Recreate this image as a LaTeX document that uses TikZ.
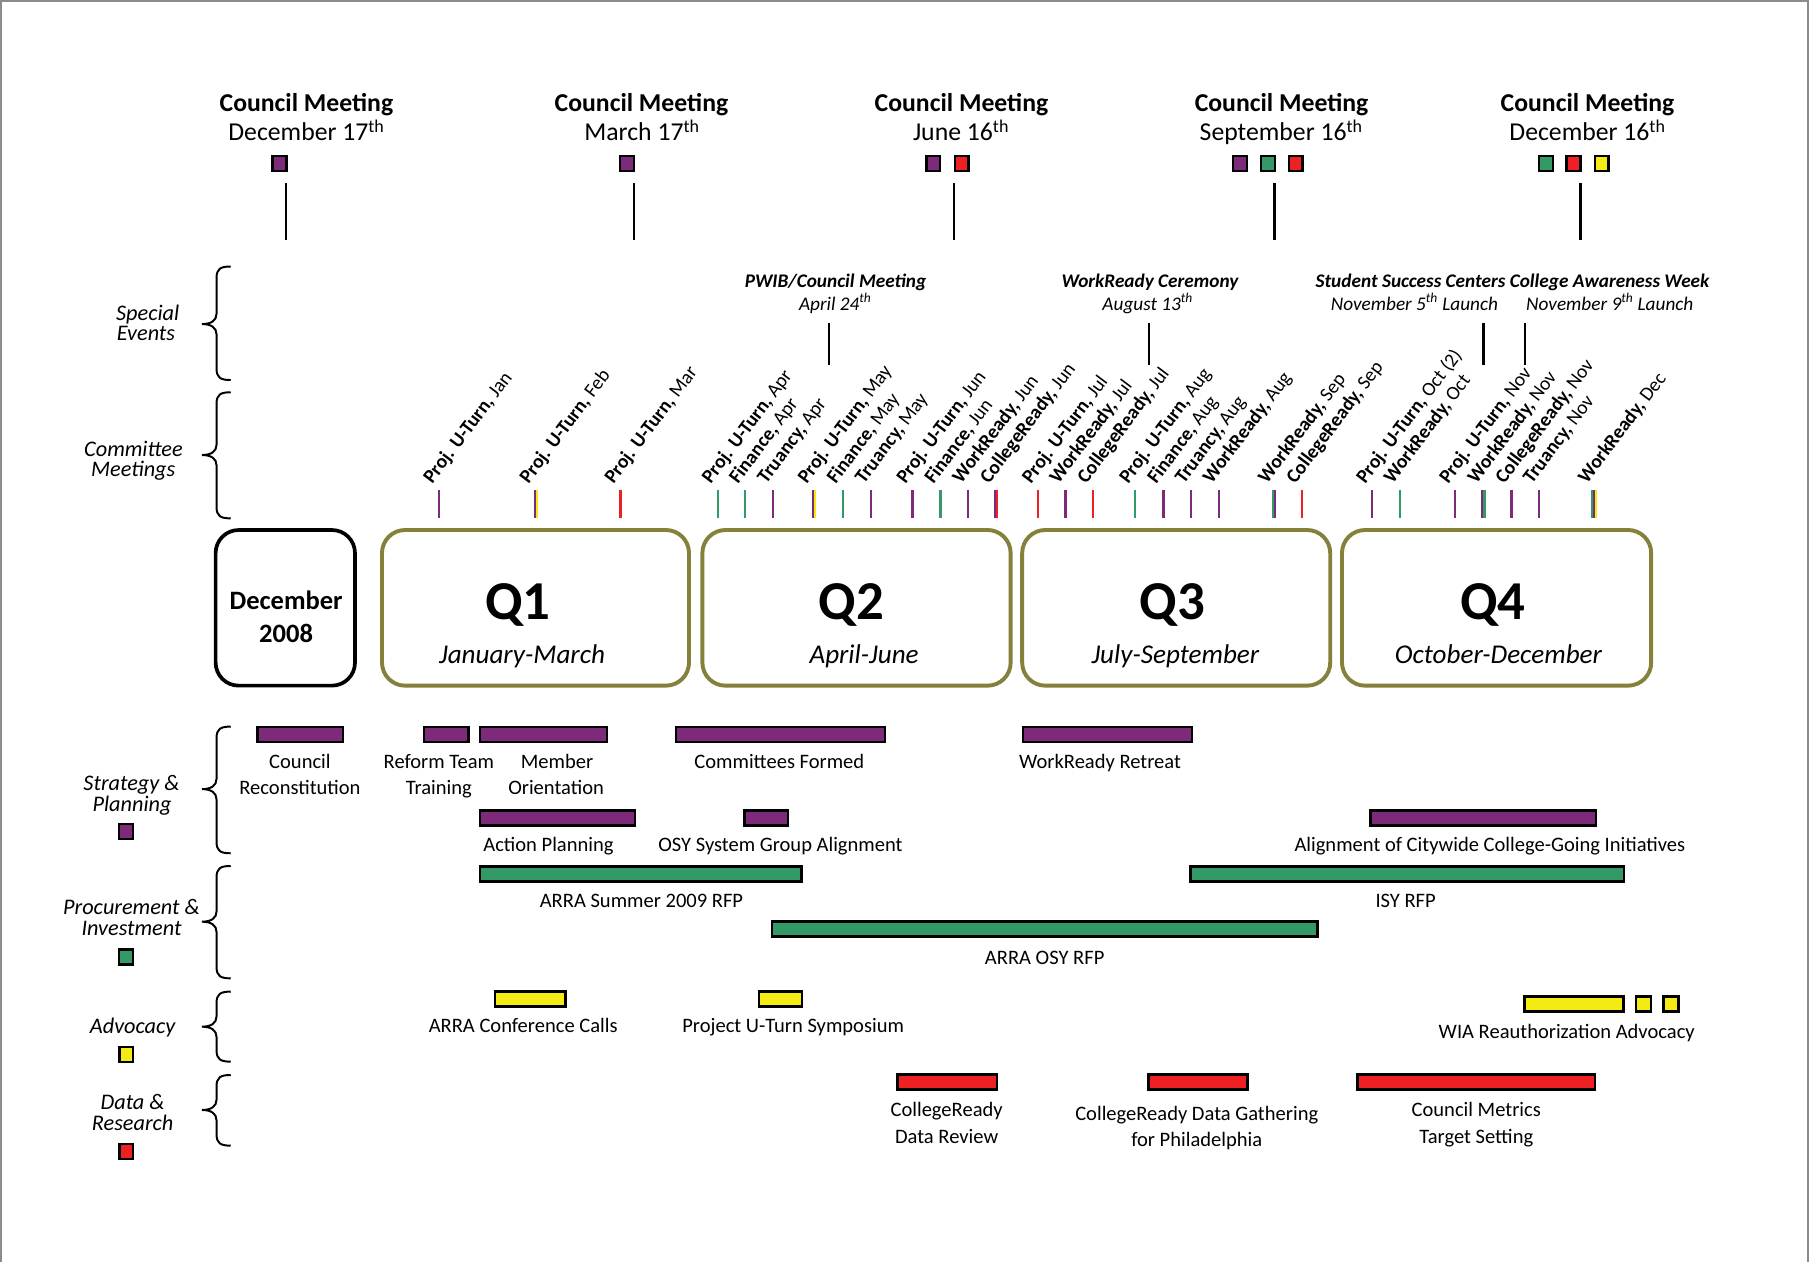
\documentclass[tikz,border=0pt]{standalone}
\usepackage{fontspec}
\setmainfont{Carlito}
\definecolor{cpur}{RGB}{125,42,123}
\definecolor{cgrn}{RGB}{51,153,102}
\definecolor{cred}{RGB}{237,32,36}
\definecolor{cyel}{RGB}{245,235,20}
\definecolor{colive}{RGB}{133,128,58}
\definecolor{framegray}{RGB}{140,140,140}
\newcommand\fcm{\fontsize{22.3}{26}\selectfont}
\newcommand\fse{\fontsize{16.7}{20}\selectfont}
\newcommand\flab{\fontsize{19.3}{22}\selectfont}
\newcommand\ftick{\fontsize{17}{20}\selectfont}
\newcommand\fbar{\fontsize{17.8}{21}\selectfont}
\newcommand\PU{\textbf{Proj. U-Turn,}}
\newcommand\FI{\textbf{Finance,}}
\newcommand\TR{\textbf{Truancy,}}
\newcommand\WR{\textbf{WorkReady,}}
\newcommand\CR{\textbf{CollegeReady,}}
\newcommand\tlbrace[3]{%
 \draw[line width=1.7] (200,#1) .. controls (191,#1) and (187.7,{#1+2}) .. (187.7,{#1+10})
  -- (187.7,{#2-9}) .. controls (187.7,{#2-3}) and (183,#2) .. (175,#2)
  .. controls (183,#2) and (187.7,{#2+3}) .. (187.7,{#2+9})
  -- (187.7,{#3-10}) .. controls (187.7,{#3-2}) and (191,#3) .. (200,#3);}
\tikzset{
 every node/.style={inner sep=0pt, outer sep=0pt},
 cmt/.style={font=\fcm\bfseries, anchor=base},
 cmd/.style={font=\fcm, anchor=base},
 set/.style={font=\fse\bfseries\itshape, anchor=base},
 sed/.style={font=\fse\itshape, anchor=base},
 lab/.style={font=\flab\itshape, anchor=base},
 tlab/.style={font=\ftick, anchor=base west, rotate=53},
 btxt/.style={font=\fbar, anchor=base},
 sq/.style={draw=black, line width=2, minimum width=12, minimum height=13},
 bar/.style={draw=black, line width=2.2, minimum height=13},
 qbox/.style={draw=colive, line width=3.4, rounded corners=20, minimum height=134.9},
 vline/.style={line width=1.9},
 tick/.style={line width=2},
}
\begin{document}
\begin{tikzpicture}[x=1pt,y=-1pt]
\useasboundingbox (0,0) rectangle (1568,1094);
\fill[white] (0,0) rectangle (1568,1094);
\draw[framegray, line width=1.2] (0.8,1094) -- (0.8,0.8) -- (1567.2,0.8) -- (1567.2,1094);

% ---------- Council meetings ----------
\node[cmt] (cm1t) at (265.6,97) {Council Meeting};
\node[cmd] (cm1d) at (265.6,122) {December 17\textsuperscript{th}};
\node[cmt] (cm2t) at (556,97) {Council Meeting};
\node[cmd] (cm2d) at (556.5,122) {March 17\textsuperscript{th}};
\node[cmt] (cm3t) at (833.4,97) {Council Meeting};
\node[cmd] (cm3d) at (833,122) {June 16\textsuperscript{th}};
\node[cmt] (cm4t) at (1110.8,97) {Council Meeting};
\node[cmd] (cm4d) at (1110.5,122) {September 16\textsuperscript{th}};
\node[cmt] (cm5t) at (1376,97) {Council Meeting};
\node[cmd] (cm5d) at (1376,122) {December 16\textsuperscript{th}};

\node[sq, fill=cpur] (s11) at (242.3,141.5) {};
\node[sq, fill=cpur] (s21) at (543.6,141.5) {};
\node[sq, fill=cpur] (s31) at (809,141.5) {};
\node[sq, fill=cred] (s32) at (833.5,141.5) {};
\node[sq, fill=cpur] (s41) at (1075,141.5) {};
\node[sq, fill=cgrn] (s42) at (1099,141.5) {};
\node[sq, fill=cred] (s43) at (1123,141.5) {};
\node[sq, fill=cgrn] (s51) at (1340.2,141.5) {};
\node[sq, fill=cred] (s52) at (1363.9,141.5) {};
\node[sq, fill=cyel] (s53) at (1388.2,141.5) {};

\foreach \x [count=\i] in {248,549.5,826.7,1104.7,1370}{
  \coordinate (ca\i) at (\x,159);
  \coordinate (cb\i) at (\x,208);
  \draw[vline] (ca\i) -- (cb\i);
}

% ---------- Special events ----------
\node[set] (se1t) at (724.2,249.4) {PWIB/Council Meeting};
\node[sed] (se1d) at (724,268.7) {April 24\textsuperscript{th}};
\node[set] (se2t) at (996.8,249.4) {WorkReady Ceremony};
\node[sed] (se2d) at (994.8,268.7) {August 13\textsuperscript{th}};
\node[set] (se3t) at (1311,249.4) {Student Success Centers College Awareness Week};
\node[sed] (se3a) at (1226,268.7) {November 5\textsuperscript{th} Launch};
\node[sed] (se3b) at (1395.3,268.7) {November 9\textsuperscript{th} Launch};
\foreach \x [count=\i] in {718.6,996,1285.8,1322}{
  \coordinate (sa\i) at (\x,280.2);
  \coordinate (sb\i) at (\x,316.4);
  \draw[vline] (sa\i) -- (sb\i);
}

% ---------- Left labels and braces ----------
\node[lab] (l1a) at (128,277.4) {Special};
\node[lab] (l1b) at (126.5,295.3) {Events};
\node[lab] (l2a) at (115.7,395.8) {Committee};
\node[lab] (l2b) at (115.5,413) {Meetings};
\node[lab] (l3a) at (114,685) {Strategy \&};
\node[lab] (l3b) at (114.5,703) {Planning};
\node[lab] (l4a) at (114,793) {Procurement \&};
\node[lab] (l4b) at (114,811) {Investment};
\node[lab] (l5a) at (115,895.6) {Advocacy};
\node[lab] (l6a) at (115,962) {Data \&};
\node[lab] (l6b) at (115,980) {Research};
\node[sq, fill=cpur] (lg1) at (109.3,720.8) {};
\node[sq, fill=cgrn] (lg2) at (109.3,829.6) {};
\node[sq, fill=cyel] (lg3) at (109.5,914) {};
\node[sq, fill=cred] (lg4) at (109.5,998) {};

\tlbrace{231}{280.9}{329.4}
\tlbrace{340}{394.4}{449.3}
\tlbrace{629.8}{684}{739.6}
\tlbrace{750.6}{798.9}{848}
\tlbrace{859.5}{889.9}{920.2}
\tlbrace{931.8}{962.1}{993}

% ---------- Committee ticks ----------
\foreach \x/\c [count=\i] in {380.8/cpur,463.6/cpur,465.4/cyel,537.8/cred,622.2/cgrn,645.8/cgrn,
  670.2/cpur,704.6/cpur,706.4/cyel,730.6/cgrn,755/cpur,791/cpur,815.3/cgrn,839.3/cpur,
  862.4/cpur,864.2/cred,899.7/cred,923.6/cpur,947.6/cred,984/cgrn,1008.4/cpur,1032.3/cpur,
  1056.4/cpur,1103.5/cgrn,1105.3/cpur,1128.8/cred,1189.5/cpur,1213.2/cgrn,1261.4/cpur,
  1284.9/cpur,1286.7/cgrn,1310/cpur,1334/cpur,1379.8/cgrn,1381.6/cpur,1383.4/cyel}{
  \coordinate (ta\i) at (\x,424.7);
  \coordinate (tb\i) at (\x,449);
  \draw[tick, draw=\c] (ta\i) -- (tb\i);
}
\foreach \x/\b/\m [count=\i] in {380.8/\PU/Jan,464.3/\PU/Feb,537.8/\PU/Mar,
  622.2/\PU/Apr,645.8/\FI/Apr,670.2/\TR/Apr,
  705.4/\PU/May,730.6/\FI/May,755/\TR/May,
  791/\PU/Jun,815.3/\FI/Jun,839.3/\WR/Jun,863.3/\CR/Jun,
  899.7/\PU/Jul,923.6/\WR/Jul,947.6/\CR/Jul,
  984/\PU/Aug,1008.4/\FI/Aug,1032.3/\TR/Aug,1056.4/\WR/Aug,
  1104.4/\WR/Sep,1128.8/\CR/Sep,
  1189.5/\PU/Oct (2),1213.2/\WR/Oct,
  1261.4/\PU/Nov,1285.8/\WR/Nov,1310/\CR/Nov,1334/\TR/Nov,
  1381.6/\WR/Dec}{
  \node[tlab] (tl\i) at ({\x-6},420) {\b{} \m};
}

% ---------- Quarter boxes ----------
\node[draw=black, line width=3.2, rounded corners=20, minimum width=120.8, minimum height=134.9] (qdec) at (247.3,526.85) {};
\node[qbox, minimum width=266.1] (q1) at (464.15,526.85) {};
\node[qbox, minimum width=267.2] (q2) at (742.4,526.85) {};
\node[qbox, minimum width=267] (q3) at (1019.5,526.85) {};
\node[qbox, minimum width=268] (q4) at (1297.2,526.85) {};

\node[font=\fontsize{23}{27}\selectfont\bfseries, anchor=base] (qdt1) at (248,528) {December};
\node[font=\fontsize{23}{27}\selectfont\bfseries, anchor=base] (qdt2) at (248,556.5) {2008};
\node[font=\fontsize{47.5}{50}\selectfont\bfseries, anchor=base] (q1t) at (449,537) {Q1};
\node[font=\fontsize{23.5}{27}\selectfont\itshape, anchor=base] (q1s) at (452.5,575) {January-March};
\node[font=\fontsize{47.5}{50}\selectfont\bfseries, anchor=base] (q2t) at (738,537) {Q2};
\node[font=\fontsize{23.5}{27}\selectfont\itshape, anchor=base] (q2s) at (749,575) {April-June};
\node[font=\fontsize{47.5}{50}\selectfont\bfseries, anchor=base] (q3t) at (1016,537) {Q3};
\node[font=\fontsize{23.5}{27}\selectfont\itshape, anchor=base] (q3s) at (1018.8,575) {July-September};
\node[font=\fontsize{47.5}{50}\selectfont\bfseries, anchor=base] (q4t) at (1294,537) {Q4};
\node[font=\fontsize{23.5}{27}\selectfont\itshape, anchor=base] (q4s) at (1298.8,575) {October-December};

% ---------- Bars ----------
\node[bar, fill=cpur, minimum width=73.9] (b1) at (260.25,636.6) {};
\node[bar, fill=cpur, minimum width=38.7] (b2) at (386.95,636.6) {};
\node[bar, fill=cpur, minimum width=110.3] (b3) at (471.15,636.6) {};
\node[bar, fill=cpur, minimum width=181.3] (b4) at (676.45,636.6) {};
\node[bar, fill=cpur, minimum width=146.1] (b5) at (959.95,636.6) {};
\node[bar, fill=cpur, minimum width=134.3] (b6) at (483.15,708.8) {};
\node[bar, fill=cpur, minimum width=37.8] (b7) at (664.3,708.8) {};
\node[bar, fill=cpur, minimum width=195.4] (b8) at (1285.7,708.8) {};
\node[bar, fill=cgrn, minimum width=278.7] (b9) at (555.35,757.4) {};
\node[bar, fill=cgrn, minimum width=376] (b10) at (1219.7,757.4) {};
\node[bar, fill=cgrn, minimum width=472.7] (b11) at (905.55,805.35) {};
\node[bar, fill=cyel, minimum width=61.2] (b12) at (459.5,865.8) {};
\node[bar, fill=cyel, minimum width=37.3] (b13) at (676.45,865.8) {};
\node[bar, fill=cyel, minimum width=85.9] (b14) at (1364.45,870.1) {};
\node[bar, fill=cyel, minimum width=13.2] (b15) at (1424.6,870.1) {};
\node[bar, fill=cyel, minimum width=13.1] (b16) at (1448.45,870.1) {};
\node[bar, fill=cred, minimum width=85.9] (b17) at (821.05,938) {};
\node[bar, fill=cred, minimum width=85.9] (b18) at (1038.45,938) {};
\node[bar, fill=cred, minimum width=205.8] (b19) at (1279.6,938) {};

% ---------- Bar labels ----------
\node[btxt] (t1a) at (260,666) {Council};
\node[btxt] (t1b) at (260,689) {Reconstitution};
\node[btxt] (t2a) at (380.4,666) {Reform Team};
\node[btxt] (t2b) at (380.4,689) {Training};
\node[btxt] (t3a) at (482.8,666) {Member};
\node[btxt] (t3b) at (482,689) {Orientation};
\node[btxt] (t4) at (675.5,666) {Committees Formed};
\node[btxt] (t5) at (953.5,666) {WorkReady Retreat};
\node[btxt] (t6) at (475.4,738) {Action Planning};
\node[btxt] (t7) at (676.5,738) {OSY System Group Alignment};
\node[btxt] (t8) at (1291.4,738) {Alignment of Citywide College-Going Initiatives};
\node[btxt] (t9) at (556,787) {ARRA Summer 2009 RFP};
\node[btxt] (t10) at (1218.4,787) {ISY RFP};
\node[btxt] (t11) at (905.5,836) {ARRA OSY RFP};
\node[btxt] (t12) at (453.5,895) {ARRA Conference Calls};
\node[btxt] (t13) at (687.5,895) {Project U-Turn Symposium};
\node[btxt] (t14) at (1358,900) {WIA Reauthorization Advocacy};
\node[btxt] (t17a) at (820.5,968) {CollegeReady};
\node[btxt] (t17b) at (820.5,991) {Data Review};
\node[btxt] (t18a) at (1037.3,971) {CollegeReady Data Gathering};
\node[btxt] (t18b) at (1037.3,993.5) {for Philadelphia};
\node[btxt] (t19a) at (1279.6,968) {Council Metrics};
\node[btxt] (t19b) at (1279.6,991) {Target Setting};
\end{tikzpicture}
\end{document}
